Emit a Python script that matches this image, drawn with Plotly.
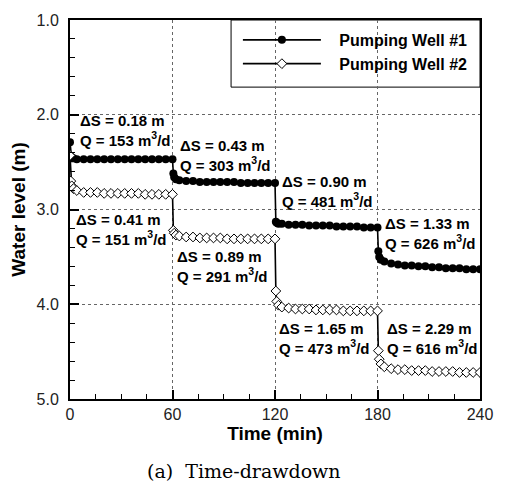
import plotly.graph_objects as go

# ---- data ----
time_min = [0,
            0.5, 1, 2, 4, 8, 12, 16, 20, 24, 28, 32, 36, 40, 44, 48, 52, 56, 60,
            60.5, 61, 62, 64, 68, 72, 76, 80, 84, 88, 92, 96, 100, 104, 108, 112, 116, 120,
            120.5, 121, 122, 124, 128, 132, 136, 140, 144, 148, 152, 156, 160, 164, 168, 172, 176, 180,
            180.5, 181, 182, 184, 188, 192, 196, 200, 204, 208, 212, 216, 220, 224, 228, 232, 236, 240]

well1_level = [2.29,
               2.44, 2.46, 2.46, 2.47, 2.47, 2.47, 2.47, 2.47, 2.47, 2.47, 2.47, 2.47, 2.47, 2.47, 2.47, 2.47, 2.47, 2.47,
               2.62, 2.66, 2.68, 2.69, 2.70, 2.70, 2.71, 2.71, 2.71, 2.71, 2.71, 2.71, 2.72, 2.72, 2.72, 2.72, 2.72, 2.72,
               3.13, 3.14, 3.15, 3.15, 3.16, 3.16, 3.16, 3.17, 3.17, 3.17, 3.17, 3.18, 3.18, 3.18, 3.18, 3.19, 3.19, 3.19,
               3.44, 3.50, 3.53, 3.55, 3.57, 3.58, 3.59, 3.59, 3.60, 3.60, 3.61, 3.61, 3.62, 3.62, 3.62, 3.63, 3.63, 3.63]

well2_level = [2.43,
               2.70, 2.75, 2.78, 2.80, 2.82, 2.82, 2.82, 2.83, 2.83, 2.83, 2.83, 2.83, 2.83, 2.84, 2.84, 2.84, 2.84, 2.84,
               3.22, 3.25, 3.27, 3.28, 3.29, 3.29, 3.30, 3.30, 3.30, 3.30, 3.31, 3.31, 3.31, 3.31, 3.31, 3.31, 3.31, 3.31,
               3.86, 3.97, 4.01, 4.03, 4.04, 4.05, 4.05, 4.05, 4.06, 4.06, 4.06, 4.06, 4.07, 4.07, 4.07, 4.07, 4.07, 4.07,
               4.49, 4.58, 4.63, 4.66, 4.68, 4.69, 4.69, 4.70, 4.70, 4.70, 4.71, 4.71, 4.71, 4.71, 4.72, 4.72, 4.72, 4.72]

series_names = ["Pumping Well #1", "Pumping Well #2"]

ds_labels = ["0.18", "0.43", "0.90", "1.33", "0.41", "0.89", "1.65", "2.29"]
q_labels = ["153", "303", "481", "626", "151", "291", "473", "616"]
# annotation anchor positions (time of left edge, level of the two-line block centre)
label_t = [4.6, 63.0, 123.0, 183.0, 2.1, 61.3, 121.3, 184.2]
label_y = [2.17, 2.435, 2.805, 3.255, 3.21, 3.605, 4.365, 4.365]

x_ticks = [0, 60, 120, 180, 240]
y_ticks = [1.0, 2.0, 3.0, 4.0, 5.0]

FONT = "Liberation Sans, Arial, sans-serif"
NB = "\u00a0"

fig = go.Figure()
fig.add_trace(go.Scatter(
    x=time_min, y=well1_level, name=NB * 3 + series_names[0], mode="lines+markers",
    line=dict(color="black", width=1.6),
    marker=dict(symbol="circle", size=8, color="black"),
))
fig.add_trace(go.Scatter(
    x=time_min, y=well2_level, name=NB * 3 + series_names[1], mode="lines+markers",
    line=dict(color="black", width=1.6),
    marker=dict(symbol="diamond", size=7.5, color="white", line=dict(color="black", width=1)),
))

for t, y, ds, q in zip(label_t, label_y, ds_labels, q_labels):
    fig.add_annotation(x=t, y=y, xref="x", yref="y", xanchor="left", yanchor="middle",
                       align="left",
                       text="ΔS = %s m<br>Q = %s m<sup>3</sup>/d" % (ds, q), showarrow=False,
                       font=dict(family=FONT, size=15, color="black", weight="bold"))

# caption
fig.add_annotation(x=(248 - 70) / 420, y=-73 / 384, xref="paper", yref="paper",
                   xanchor="center", yanchor="middle", showarrow=False,
                   text="(a)  Time-drawdown",
                   font=dict(family="DejaVu Serif, serif", size=19, color="black"))

# legend border box
fig.add_shape(type="rect", xref="paper", yref="paper",
              x0=(235 - 70) / 420, x1=1, y0=1 - 68 / 384, y1=1,
              line=dict(color="black", width=1), fillcolor="white", layer="below")

fig.update_layout(
    width=505, height=483,
    margin=dict(l=70, r=15, t=15, b=84),
    paper_bgcolor="white", plot_bgcolor="white",
    font=dict(family=FONT, size=15, color="black"),
    showlegend=True,
    legend=dict(x=(242 - 70) / 420, y=1 - 3 / 384, xanchor="left", yanchor="top",
                bgcolor="rgba(0,0,0,0)", borderwidth=0, itemwidth=78,
                font=dict(family=FONT, size=16, color="black", weight="bold"),
                tracegroupgap=0),
)

fig.update_xaxes(
    range=[0, 240], tickvals=x_ticks, ticktext=[str(v) for v in x_ticks],
    ticks="inside", ticklen=9, tickwidth=2, tickcolor="black",
    minor=dict(dtick=15, ticks="inside", ticklen=5, tickwidth=1, tickcolor="black", showgrid=False),
    showline=True, linecolor="black", linewidth=2, mirror=True,
    showgrid=True, gridcolor="#666666", gridwidth=1, griddash="3px,3px",
    zeroline=False,
    title=dict(text="Time (min)", font=dict(family=FONT, size=19, weight="bold"), standoff=2),
    tickfont=dict(family=FONT, size=16, color="#222222"),
)
fig.update_yaxes(
    range=[5, 1], tickvals=y_ticks, ticktext=["%.1f" % v for v in y_ticks],
    ticks="inside", ticklen=9, tickwidth=2, tickcolor="black",
    minor=dict(dtick=0.2, tick0=1, ticks="inside", ticklen=5, tickwidth=1, tickcolor="black", showgrid=False),
    showline=True, linecolor="black", linewidth=2, mirror=True,
    showgrid=True, gridcolor="#666666", gridwidth=1, griddash="3px,3px",
    zeroline=False,
    title=dict(text="Water level (m)", font=dict(family=FONT, size=19, weight="bold"), standoff=6),
    tickfont=dict(family=FONT, size=16, color="#222222"),
    ticklabelstandoff=6,
)

fig.write_html("out.html")
